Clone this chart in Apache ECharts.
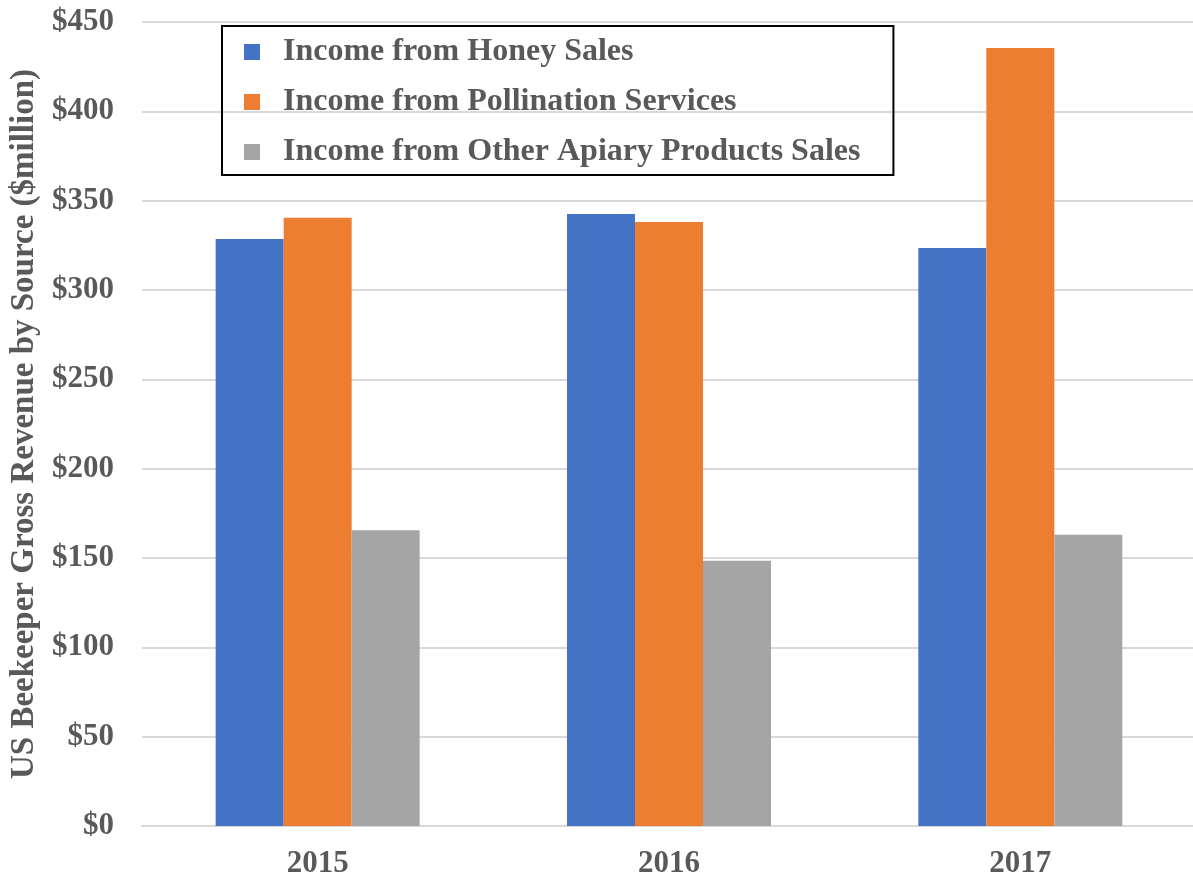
<!DOCTYPE html>
<html>
<head>
<meta charset="utf-8">
<script src="https://cdn.jsdelivr.net/npm/echarts@6/dist/echarts.min.js"></script>
<style>
  html, body { margin: 0; padding: 0; background: #fff; }
  #main { width: 1193px; height: 884px; }
</style>
</head>
<body>
<div id="main"></div>
<script>
// data
var years = ['2015', '2016', '2017'];
var honeySales = [328.5, 342.5, 323.5];
var pollination = [340.5, 338, 435.5];
var otherProducts = [165.5, 148.5, 163];
var seriesNames = ['Income from Honey Sales', 'Income from Pollination Services', 'Income from Other Apiary Products Sales'];

var font = '"Liberation Serif", "Times New Roman", serif';
var txt = '#595959';

var myChart = echarts.init(document.getElementById('main'));
var option = {
	animation: false,
	color: ['#4472C4', '#ED7D31', '#A5A5A5'],
	grid: {
		left: 142,
		width: 1054,
		top: 22,
		bottom: 58,
		outerBoundsMode: 'none'
	},
	legend: {
		orient: 'vertical',
		left: 222,
		top: 26,
		padding: [10, 33, 7, 22],
		itemGap: 18,
		itemWidth: 16,
		itemHeight: 16,
		icon: 'rect',
		borderColor: '#000',
		borderWidth: 2,
		textStyle: {
			fontFamily: font,
			fontWeight: 'bold',
			fontSize: 32,
			lineHeight: 32,
			color: txt,
			padding: [0, 0, 0, 18]
		},
		data: seriesNames
	},
	xAxis: {
		type: 'category',
		data: years,
		axisLine: { lineStyle: { color: '#D9D9D9', width: 2 } },
		axisTick: { show: false },
		axisLabel: {
			margin: 22,
			fontFamily: font,
			fontWeight: 'bold',
			fontSize: 31,
			color: txt
		}
	},
	yAxis: {
		type: 'value',
		min: 0,
		max: 450,
		interval: 50,
		name: 'US Beekeeper Gross Revenue by Source ($million)',
		nameLocation: 'middle',
		nameGap: 98,
		nameTextStyle: {
			fontFamily: font,
			fontWeight: 'bold',
			fontSize: 33,
			color: txt
		},
		axisLine: { show: false },
		axisTick: { show: false },
		splitLine: { lineStyle: { color: '#D9D9D9', width: 2 } },
		axisLabel: {
			margin: 28,
			fontFamily: font,
			fontWeight: 'bold',
			fontSize: 31,
			color: txt,
			formatter: function(v) { return '$' + v; }
		}
	},
	series: [
		{ name: seriesNames[0], type: 'bar', data: honeySales, barWidth: 68, barGap: '0%' },
		{ name: seriesNames[1], type: 'bar', data: pollination, barWidth: 68, barGap: '0%' },
		{ name: seriesNames[2], type: 'bar', data: otherProducts, barWidth: 68, barGap: '0%' }
	]
};
myChart.setOption(option);
</script>
</body>
</html>
